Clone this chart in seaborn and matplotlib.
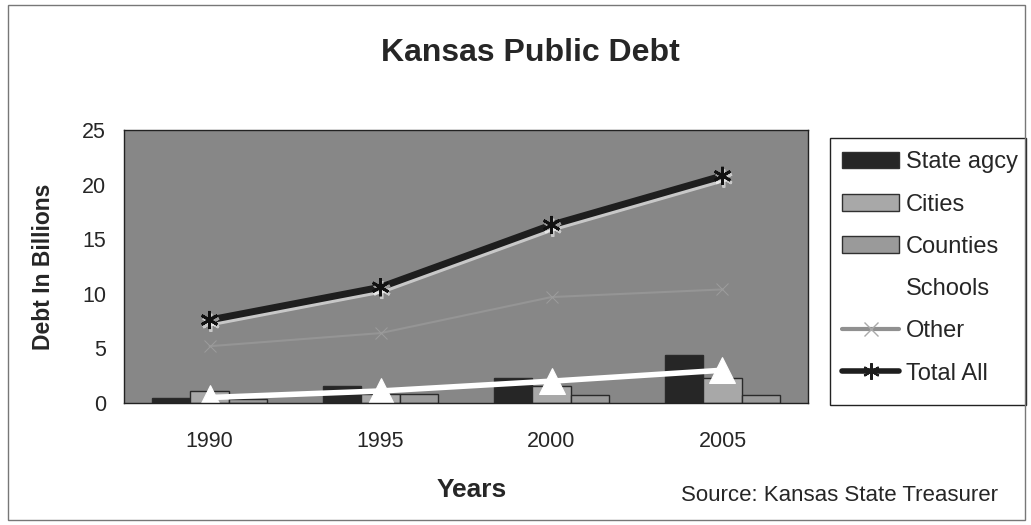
import matplotlib

matplotlib.use("Agg")
import numpy as np
import pandas as pd
import seaborn as sns
import matplotlib.pyplot as plt
import matplotlib.patheffects as pe
from matplotlib.patches import Patch, Rectangle
from matplotlib.lines import Line2D

years = ["1990", "1995", "2000", "2005"]
state_agcy = [0.5, 1.6, 2.3, 4.4]
cities = [1.1, 0.8, 1.6, 2.3]
counties = [0.4, 0.8, 0.7, 0.7]
schools = [0.5, 1.1, 2.0, 3.0]
other = [5.2, 6.4, 9.7, 10.4]
total_all = [7.6, 10.6, 16.3, 20.8]

bar_series = {"State agcy": state_agcy, "Cities": cities, "Counties": counties}
bar_colors = {"State agcy": "#262626", "Cities": "#a8a8a8", "Counties": "#9a9a9a"}

df = pd.DataFrame(
    [(y, name, v) for name, vals in bar_series.items() for y, v in zip(years, vals)],
    columns=["year", "type", "debt"],
)

sns.set_style("white")
plt.rcParams["font.family"] = ["Liberation Sans", "DejaVu Sans"]

fig = plt.figure(figsize=(10.31, 5.25), dpi=100)
ax = fig.add_axes([0.1203, 0.2324, 0.6634, 0.52])
ax.set_facecolor("#878787")

sns.barplot(
    data=df, x="year", y="debt", hue="type", order=years,
    hue_order=list(bar_series), palette=bar_colors, width=0.67,
    edgecolor="#2a2a2a", linewidth=1.0, legend=False, ax=ax,
)

xpos = np.arange(len(years))
sns.lineplot(x=xpos, y=other, ax=ax, color="#959595", linewidth=1.5,
             marker="x", markersize=8, markeredgecolor="#9c9c9c", legend=False)
sns.lineplot(x=xpos, y=schools, ax=ax, color="white", linewidth=4,
             marker="^", markersize=19, markeredgecolor="white", legend=False)
sns.lineplot(x=xpos, y=total_all, ax=ax, color="#1e1e1e", linewidth=5,
             marker=(6, 2, 0), markersize=13, markeredgecolor="#111111",
             markeredgewidth=2, legend=False,
             path_effects=[pe.SimpleLineShadow(offset=(1, -2), shadow_color="white",
                                               alpha=0.55), pe.Normal()])

ax.set_xlim(-0.5, 3.5)
ax.set_ylim(0, 25)
ax.set_yticks([0, 5, 10, 15, 20, 25])
ax.set_xticks(np.arange(-0.5, 4, 1.0))
ax.set_xticklabels([])
ax.set_xticks(xpos, minor=True)
ax.set_xticklabels(years, minor=True)
ax.tick_params(axis="x", which="major", direction="out", length=7, width=1, color="black")
ax.tick_params(axis="x", which="minor", length=0, pad=20, labelsize=15.5)
ax.tick_params(axis="y", direction="out", length=7, width=1, color="black",
               labelsize=15.5, pad=6)
ax.set_xlabel("")
ax.set_ylabel("Debt In Billions", fontsize=16.5, fontweight="bold", labelpad=19)
for s in ax.spines.values():
    s.set_color("#222222")
    s.set_linewidth(1)

fig.text(0.514, 0.899, "Kansas Public Debt", ha="center", va="center",
         fontsize=23, fontweight="bold")
fig.text(0.458, 0.067, "Years", ha="center", va="center", fontsize=19,
         fontweight="bold")
fig.text(0.661, 0.057, "Source: Kansas State Treasurer", ha="left", va="center",
         fontsize=16)

handles = [
    Patch(facecolor=bar_colors["State agcy"], edgecolor="#303030"),
    Patch(facecolor=bar_colors["Cities"], edgecolor="#303030"),
    Patch(facecolor=bar_colors["Counties"], edgecolor="#303030"),
    Line2D([], [], color="white", linewidth=4, marker="^", markersize=12,
           markeredgecolor="white"),
    Line2D([], [], color="#909090", linewidth=3, marker="x", markersize=10,
           markeredgecolor="#aaaaaa"),
    Line2D([], [], color="#1e1e1e", linewidth=4, marker=(6, 2, 0), markersize=12,
           markeredgewidth=1.5),
]
labels = ["State agcy", "Cities", "Counties", "Schools", "Other", "Total All"]
leg = fig.legend(handles, labels, loc="upper left", bbox_to_anchor=(0.817, 0.712),
                 fontsize=17, frameon=False, handlelength=2.4,
                 handletextpad=0.3, labelspacing=0.86, borderpad=0.0,
                 borderaxespad=0)

# legend frame drawn by hand so the box can hug the right edge like the scan
fig.patches.append(Rectangle((0.805, 0.229), 0.19, 0.508, transform=fig.transFigure,
                             fill=False, edgecolor="#222222", linewidth=1))
fig.patches.append(Rectangle((0.008, 0.01), 0.986, 0.98, transform=fig.transFigure,
                             fill=False, edgecolor="#777777", linewidth=1))

fig.savefig("out.png", dpi=100)
plt.close(fig)
